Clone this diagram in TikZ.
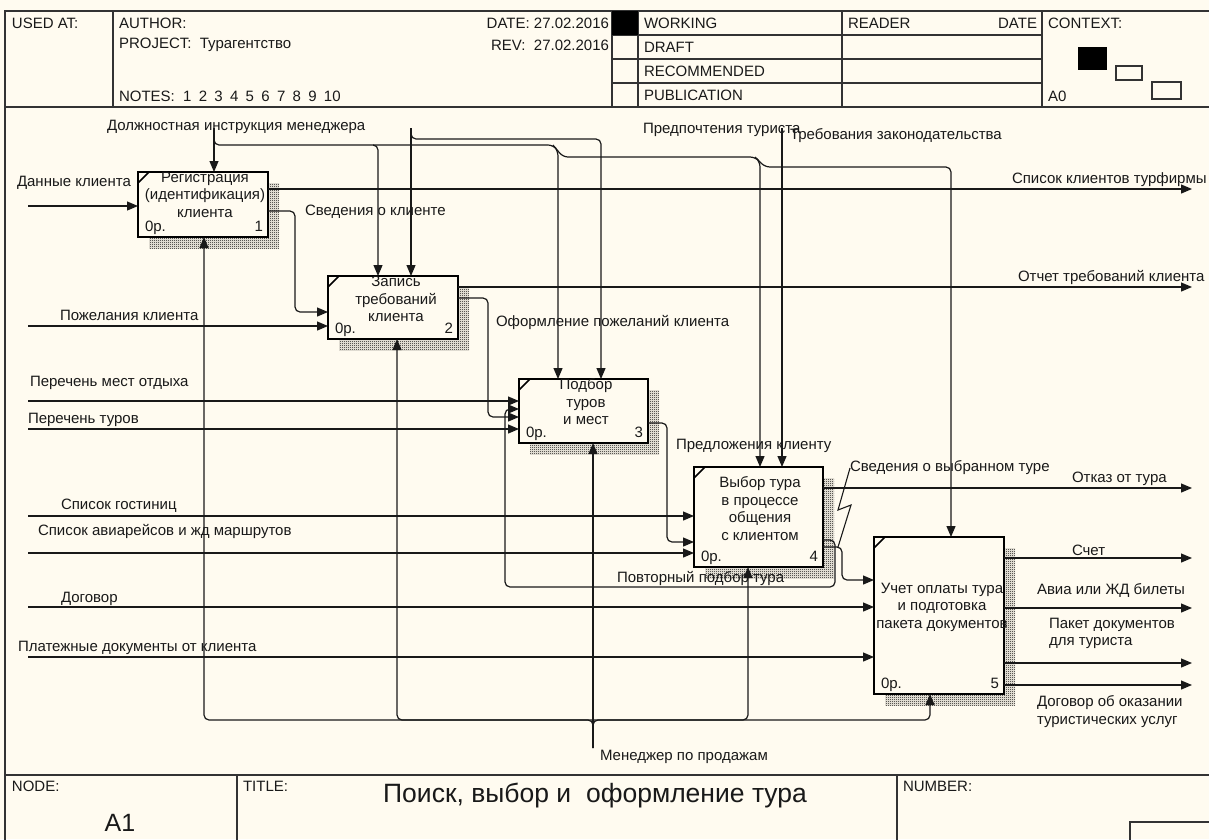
\documentclass[tikz,border=0pt]{standalone}
\usepackage{fontspec}
\setmainfont{Liberation Sans}
\usetikzlibrary{arrows.meta,patterns}
\definecolor{paper}{RGB}{255,251,240}
\definecolor{ink}{RGB}{25,25,25}
\pgfdeclarelayer{paperlayer}
\pgfdeclarelayer{shadelayer}
\pgfsetlayers{paperlayer,shadelayer,main}
% fine checkerboard used for the box shadows
\pgfdeclarepatternformonly{finechecks}{\pgfpointorigin}{\pgfpoint{2pt}{2pt}}{\pgfpoint{2pt}{2pt}}{%
  \pgfpathrectangle{\pgfpointorigin}{\pgfpoint{1pt}{1pt}}%
  \pgfpathrectangle{\pgfpoint{1pt}{1pt}}{\pgfpoint{1pt}{1pt}}%
  \pgfusepath{fill}}
\newcommand\txtsize{\fontsize{15}{17.5}\selectfont}
\newcommand\gap{\hspace{7.3pt}}

\begin{document}
\begin{tikzpicture}[x=1pt,y=-1pt,
  every node/.style={inner sep=0pt,outer sep=0pt,font=\txtsize,text=ink},
  rule/.style={draw=black!80,line width=1.6pt},
  fbox/.style={draw=black,line width=2.6pt,fill=paper,inner sep=0pt},
  flow/.style={draw=ink,line width=1.2pt,rounded corners=5pt,-{Triangle[length=11pt,width=9pt]}},
  wire/.style={draw=ink,line width=1.1pt},
  lbl/.style={anchor=west},
  btxt/.style={align=center},
  tag/.style={anchor=base west},
  num/.style={anchor=base east}]

\useasboundingbox (0,0) rectangle (1209,839);
\begin{pgfonlayer}{paperlayer}
  \fill[paper] (0,0) rectangle (1209,839);
\end{pgfonlayer}

% ---------- form frame: header ----------
\draw[rule] (5,842) -- (5,11) -- (1212,11);
\draw[rule] (5,107) -- (1212,107);
\draw[rule] (113,11) -- (113,107);
\draw[rule] (612,11) -- (612,107);
\draw[rule] (638,11) -- (638,107);
\draw[rule] (842,11) -- (842,107);
\draw[rule] (1042,11) -- (1042,107);
\foreach \y in {35,59,83} \draw[rule] (612,\y) -- (1042,\y);
\fill[black] (612,11) rectangle (638,35);
% context thumbnail
\fill[black] (1078,47) rectangle (1107,70);
\draw[line width=1.2pt,draw=black!80] (1116,66) rectangle (1142,80);
\draw[line width=1.2pt,draw=black!80] (1152,82) rectangle (1181,99);

\node[lbl] (hUsed) at (12,23) {USED AT:};
\node[lbl] (hAuth) at (119,23) {AUTHOR:};
\node[lbl] (hProj) at (119,45) {PROJECT:\ \ Турагентство};
\node[lbl] (hNotes) at (119,96) {NOTES:\ \ 1\gap 2\gap 3\gap 4\gap 5\gap 6\gap 7\gap 8\gap 9\gap 10};
\node[anchor=east] (hDate) at (609,23) {DATE: 27.02.2016};
\node[anchor=east] (hRev) at (609,45) {REV:\ \ 27.02.2016};
\node[lbl] (hWork) at (644,23) {WORKING};
\node[lbl] (hDraft) at (644,47) {DRAFT};
\node[lbl] (hRec) at (644,71) {RECOMMENDED};
\node[lbl] (hPub) at (644,95) {PUBLICATION};
\node[lbl] (hRead) at (848,23) {READER};
\node[anchor=east] (hRDate) at (1037,23) {DATE};
\node[lbl] (hCtx) at (1048,23) {CONTEXT:};
\node[lbl] (hA0) at (1048,96) {A0};

% ---------- form frame: footer ----------
\draw[rule] (5,775) -- (1212,775);
\draw[rule] (237,775) -- (237,842);
\draw[rule] (897,775) -- (897,842);
\draw[rule] (1130,842) -- (1130,822) -- (1212,822);
\node[lbl] (fNode) at (12,786) {NODE:};
\node[lbl] (fTitle) at (243,786) {TITLE:};
\node[lbl] (fNum) at (903,786) {NUMBER:};
\node[font=\fontsize{25}{30}\selectfont] (fA1) at (120,823) {A1};
\node[font=\fontsize{26.5}{30}\selectfont] (fName) at (595,796) {Поиск, выбор и\ \ оформление тура};

% ---------- activity boxes ----------
\node[fbox,minimum width=130pt,minimum height=65pt] (b1) at (203,204.5) {};
\node[fbox,minimum width=130pt,minimum height=63pt] (b2) at (393,307.5) {};
\node[fbox,minimum width=129pt,minimum height=64pt] (b3) at (583.5,411) {};
\node[fbox,minimum width=129pt,minimum height=100pt] (b4) at (758.5,517) {};
\node[fbox,minimum width=130pt,minimum height=157pt] (b5) at (939,615.5) {};

\begin{pgfonlayer}{shadelayer}
  \foreach \b in {b1,b2,b3,b4,b5}
    \fill[pattern=finechecks,pattern color=black]
      ([shift={(11pt,-11pt)}]\b.south west) rectangle ([shift={(11pt,-11pt)}]\b.north east);
\end{pgfonlayer}

\foreach \b/\n in {b1/1,b2/2,b3/3,b4/4,b5/5} {
  \draw[line width=1.6pt] ([yshift=-11pt]\b.north west) -- ([xshift=11pt]\b.north west);
  \node[tag] (\b-cost) at ([shift={(7pt,6pt)}]\b.south west) {0р.};
  \node[num] (\b-num) at ([shift={(-5pt,6pt)}]\b.south east) {\n};
}

\node[btxt] (b1t) at (205,194.5) {Регистрация\\(идентификация)\\клиента};
\node[btxt] (b2t) at (396,299) {Запись\\требований\\клиента};
\node[btxt] (b3t) at (586,402) {Подбор\\туров\\и мест};
\node[btxt] (b4t) at (760,508.5) {Выбор тура\\в процессе\\общения\\с клиентом};
\node[btxt] (b5t) at (942,607) {Учет оплаты тура\\и подготовка\\пакета документов};

% ---------- free ends of the boundary arrows ----------
\coordinate (cA) at (214,128);
\coordinate (cB) at (411,128);
\coordinate (cC) at (782,128);
\coordinate (mA) at (593,748);
\coordinate (iA) at (28,206);
\coordinate (iB) at (28,326);
\coordinate (iC) at (28,401);
\coordinate (iD) at (28,429);
\coordinate (iE) at (28,516);
\coordinate (iF) at (28,553);
\coordinate (iG) at (28,607);
\coordinate (iH) at (28,657);
\coordinate (oA) at (1192,189);
\coordinate (oB) at (1192,287);
\coordinate (oC) at (1192,488);
\coordinate (oD) at (1192,558);
\coordinate (oE) at (1192,608);
\coordinate (oF) at (1192,663);
\coordinate (oG) at (1192,685);

% ---------- inputs ----------
\draw[flow] (iA) -- (b1.west |- iA);
\draw[flow] (iB) -- (b2.west |- iB);
\draw[flow] (iC) -- (b3.west |- iC);
\draw[flow] (iD) -- (b3.west |- iD);
\draw[flow] (iE) -- (b4.west |- iE);
\draw[flow] (iF) -- (b4.west |- iF);
\draw[flow] (iG) -- (b5.west |- iG);
\draw[flow] (iH) -- (b5.west |- iH);

% ---------- box to box ----------
\draw[flow] (b1.east |- 0,211) -- (295,211) -- (295,312) -- (b2.west |- 0,312);
\draw[flow] (b2.east |- 0,298) -- (488,298) -- (488,417) -- (b3.west |- 0,417);
\draw[flow] (b3.east |- 0,423) -- (667,423) -- (667,542) -- (b4.west |- 0,542);
\draw[flow] (b4.east |- 0,547) -- (842,547) -- (842,580) -- (b5.west |- 0,580);
\draw[flow] (b4.east |- 0,540) -- (835,540) -- (835,587) -- (505,587) -- (505,409) -- (b3.west |- 0,409);

% ---------- outputs ----------
\draw[flow] (b1.east |- oA) -- (oA);
\draw[flow] (b2.east |- oB) -- (oB);
\draw[flow] (b4.east |- oC) -- (oC);
\draw[flow] (b5.east |- oD) -- (oD);
\draw[flow] (b5.east |- oE) -- (oE);
\draw[flow] (b5.east |- oF) -- (oF);
\draw[flow] (b5.east |- oG) -- (oG);

% ---------- controls ----------
\draw[flow] (cA) -- (b1.north -| cA);
\draw[flow] (214,134) -- (214,145) -- (378,145) -- (b2.north -| 378,0);
\draw[flow] (373,145) -- (553,145) -- (558,151) -- (b3.north -| 558,0);
\draw[flow] (553,145) -- (563,157) -- (755,157) -- (760,162) -- (b4.north -| 760,0);
\draw[flow] (755,157) -- (765,167) -- (951,167) -- (b5.north -| 951,0);
\draw[flow] (cB) -- (b2.north -| cB);
\draw[flow] (411,132) -- (411,139) -- (601,139) -- (b3.north -| 601,0);
\draw[flow] (cC) -- (b4.north -| cC);

% ---------- mechanisms ----------
\draw[flow] (mA) -- (593,720) -- (204,720) -- (b1.south -| 204,0);
\draw[flow] (593,720) -- (397,720) -- (b2.south -| 397,0);
\draw[flow] (mA) -- (b3.south -| mA);
\draw[flow] (593,720) -- (748,720) -- (b4.south -| 748,0);
\draw[flow] (mA) -- (593,720) -- (930,720) -- (b5.south -| 930,0);

% ---------- arrow labels ----------
\node[lbl] (lDI) at (107,127) {Должностная инструкция менеджера};
\node[lbl] (lPT) at (643,130) {Предпочтения туриста};
\node[lbl] (lTZ) at (790,136) {Требования законодательства};
\node[lbl] (lDK) at (17,183) {Данные клиента};
\node[lbl] (lSK) at (305,212) {Сведения о клиенте};
\node[lbl] (lSKT) at (1012,180) {Список клиентов турфирмы};
\node[lbl] (lPK) at (60,315) {Пожелания клиента};
\node[lbl] (lOTK) at (1018,277) {Отчет требований клиента};
\node[lbl] (lOPK) at (496,322) {Оформление пожеланий клиента};
\node[lbl] (lPMO) at (30,383) {Перечень мест отдыха};
\node[lbl] (lPTu) at (28,420) {Перечень туров};
\node[lbl] (lPrK) at (676,446) {Предложения клиенту};
\node[lbl] (lSVT) at (850,468) {Сведения о выбранном туре};
\node[lbl] (lOT) at (1072,479) {Отказ от тура};
\node[lbl] (lSG) at (61,506) {Список гостиниц};
\node[lbl] (lSA) at (38,531) {Список авиарейсов и жд маршрутов};
\node[lbl] (lSch) at (1072,550) {Счет};
\node[lbl] (lPPT) at (617,578) {Повторный подбор тура};
\node[lbl] (lAB) at (1037,590) {Авиа или ЖД билеты};
\node[lbl] (lDog) at (61,599) {Договор};
\node[lbl,align=left] (lPD) at (1049,633.5) {Пакет документов\\для туриста};
\node[lbl] (lPlD) at (18,648) {Платежные документы от клиента};
\node[lbl,align=left] (lDO) at (1037,711.5) {Договор об оказании\\туристических услуг};
\node[lbl] (lMP) at (600,757) {Менеджер по продажам};

% squiggle tying the label to its arrow
\draw[wire] (lSVT.west) -- (838,510) -- (851,505) -- (838,547);

\end{tikzpicture}
\end{document}
